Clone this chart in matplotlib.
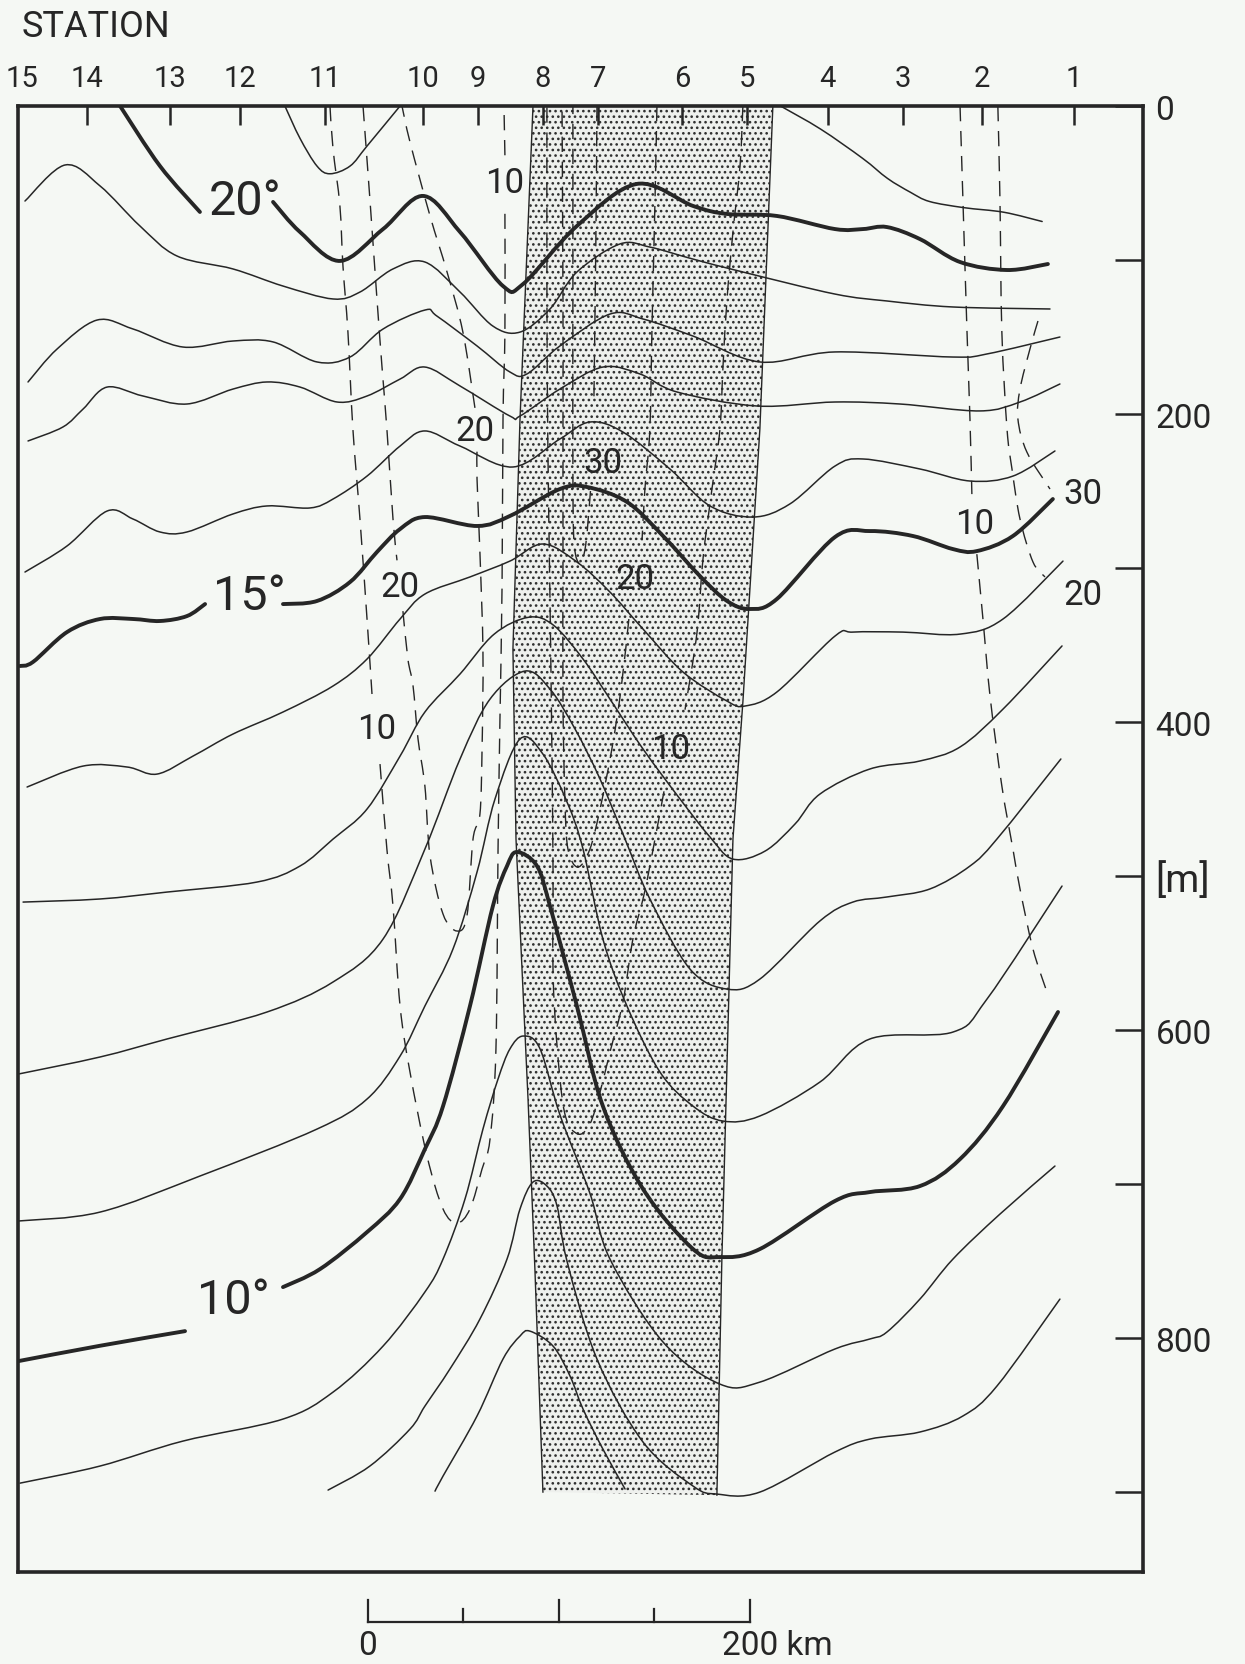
import numpy as np
import matplotlib.pyplot as plt
from matplotlib.path import Path
from matplotlib.patches import PathPatch, Polygon
from matplotlib import transforms

plt.rcParams['font.family'] = ['Roboto', 'DejaVu Sans']
plt.rcParams['hatch.linewidth'] = 1.1

ink = '#262626'
paper = '#f5f8f4'

# stations along the section, distance in km from the scale origin
stations = ['15', '14', '13', '12', '11', '10', '9', '8', '7', '6', '5', '4', '3', '2', '1']
station_km = [-181, -147.1, -103.7, -67.0, -22.5, 28.8, 57.6, 91.6, 120.4, 164.4, 198.4, 240.8, 280.1, 321.5, 369.6]

depth_ticks = [0, 100, 200, 300, 400, 500, 600, 700, 800, 900]
depth_labels = ['0', '', '200', '', '400', '[m]', '600', '', '800', '']

scale_km = [0, 50, 100, 150, 200]

# isotherms as (km, depth m); thick ones are split where the label sits
iso21_w = [(-43.5, 0), (-35.6, 21), (-26.7, 39), (-19.9, 44), (-9.4, 39), (-0.5, 26), (16.8, 0)]
iso21_e = [(216, 0), (237, 15), (259, 34), (272, 47), (284, 56), (294, 62), (312, 66), (333, 69), (353, 75)]
iso20_w = [(-129.8, 0), (-108.9, 39), (-88, 68.8)]
iso20_e = [(-49.7, 62.3), (-35.6, 81.8), (-14.7, 100.6), (7.9, 79.9), (28.8, 58.4), (48.2, 81.8),
           (70.7, 116.9), (81.2, 115.6), (109.4, 77.9), (140.8, 50.6), (170.2, 64.9), (188, 70.1),
           (214.1, 71.4), (244.5, 79.9), (259.2, 79.9), (271.7, 78.6), (289, 86.4), (310, 101.3),
           (334.6, 106.5), (356, 102.6)]
iso19 = [(-179.6, 61.7), (-158.6, 38.3), (-140.3, 51.9), (-119.4, 77.9), (-100, 97.4), (-70.7, 105.8),
         (-44.5, 116.9), (-18.3, 125.3), (-4.2, 120.8), (13.1, 105.8), (29.8, 101.3), (48.2, 120.8),
         (65.4, 142.9), (79.6, 146.8), (95.3, 131.8), (109.4, 107.8), (131.9, 89.6), (147.6, 91.6),
         (170.2, 99.4), (196.3, 107.8), (244.5, 122.1), (271.7, 126.6), (306.3, 130.5), (357.1, 131.8)]
iso18 = [(-178, 179.2), (-162.8, 157.8), (-141.9, 139), (-123, 144.8), (-96.9, 156.5), (-70.7, 152.6),
         (-49.7, 153.2), (-26.7, 166.2), (-9.4, 163), (7.9, 144.8), (29.8, 132.5), (36.1, 136.4),
         (57.1, 155.8), (74.3, 172.7), (83.2, 174), (100.5, 155.8), (126.7, 135.1), (144, 138.3),
         (170.2, 149.4), (205.2, 166.2), (244.5, 159.7), (306.3, 163), (324.1, 161), (362.3, 150)]
iso17 = [(-178, 217.5), (-159.7, 208.4), (-149.2, 196.8), (-136.6, 182.5), (-117.8, 188.3), (-94.8, 193.5),
         (-70.7, 183.8), (-52.9, 179.2), (-35.6, 182.5), (-16.2, 192.2), (-0.5, 188.3), (16.8, 177.3),
         (29.8, 169.5), (48.2, 181.8), (74.3, 201.3), (79.6, 201.3), (100.5, 183.8), (123, 169.5),
         (142.4, 174), (161.8, 185.7), (203.7, 194.8), (244.5, 192.2), (278.5, 193.5), (320.4, 198),
         (341.4, 192.2), (362.3, 180.5)]
iso16 = [(-179.6, 302.6), (-157.6, 285.7), (-136.6, 263), (-123, 268.2), (-108.9, 276.6), (-94.8, 276.6),
         (-70.7, 264.9), (-52.9, 259.7), (-30.4, 261), (-18.3, 255.2), (-0.5, 240.3), (16.8, 220.8),
         (29.8, 211), (48.2, 220.8), (75.9, 234.4), (100.5, 216.2), (116.2, 205.2), (133.5, 211.7),
         (158.1, 235.7), (179.1, 259.7), (201.6, 266.9), (220.9, 258.4), (244.5, 233.8), (259.2, 229.2),
         (289, 235.7), (315.2, 243.5), (337.7, 240.3), (359.7, 224)]
iso15_w = [(-182.2, 363.6), (-175.4, 361), (-157.6, 341.6), (-140.3, 333.1), (-123, 333.1), (-108.9, 334.4),
           (-94.8, 331.2), (-85.3, 323.4)]
iso15_e = [(-44.5, 323.4), (-26.7, 321.4), (-9.4, 309.1), (4.7, 289.6), (16.8, 274.7), (29.8, 266.9),
           (57.1, 272.7), (74.3, 266.2), (100.5, 248.7), (114.7, 247.4), (135.6, 257.1), (154.5, 279.2),
           (173.8, 305.2), (188, 321.4), (200, 326.6), (214.1, 320.1), (244.5, 279.9), (262.8, 276),
           (285.3, 279.2), (306.3, 287.7), (318.8, 289), (337.7, 279.2), (358.6, 255.2)]
iso14 = [(-178.5, 442.2), (-149.2, 428.6), (-126.2, 429.2), (-110.5, 433.8), (-91.6, 422.1), (-70.7, 407.8),
         (-44.5, 393.5), (-18.3, 376.6), (-0.5, 359.1), (16.8, 333.1), (29.8, 316.9), (53.4, 305.8),
         (74.3, 295.5), (91.6, 284.4), (109.4, 296.1), (126.7, 315.6), (144, 339.6), (164.9, 367.5),
         (188, 386.4), (197.4, 389.6), (214.1, 380.5), (244.5, 344.2), (253.9, 341.6), (280.1, 341.6),
         (310, 342.9), (332.5, 333.1), (363.9, 295.5)]
iso13 = [(-180.6, 516.9), (-140.3, 514.9), (-105.2, 510.4), (-58.1, 503.9), (-35.6, 493.5), (-18.3, 476),
         (-0.5, 456.5), (16.8, 422.1), (29.8, 393.5), (48.2, 368.8), (66, 343), (84, 332), (97, 337),
         (112.6, 359.1), (126.7, 385.1), (144, 417.5), (163.4, 450), (179.1, 474.7), (191.1, 489),
         (207.9, 483.8), (223.6, 466.2), (236.6, 446.8), (262.8, 430.5), (289, 425.3), (310, 416.2),
         (332.5, 391.6), (363.4, 350.6)]
iso12 = [(-183.2, 628.6), (-140.3, 617.5), (-105.2, 605.8), (-52.9, 588.3), (-18.3, 568.8), (7.9, 540.9),
         (29.8, 482.5), (48.2, 424), (63.9, 385.1), (82.2, 366.9), (95.3, 378.6), (108.4, 404.5),
         (121.5, 437), (134.6, 476), (147.6, 514.9), (168.6, 560.4), (188, 573.4), (205.2, 566.9),
         (236.6, 529.2), (253.9, 516.9), (271.7, 513.6), (294.2, 508.4), (315.2, 493.5), (329.3, 476),
         (362.8, 424)]
iso11 = [(-183.2, 724), (-140.3, 718.2), (-88, 694.8), (-26.7, 664.3), (-0.5, 644.8), (16.8, 616.9),
         (29.8, 584.4), (44.5, 547.4), (57.1, 497.4), (66.5, 450), (79.6, 411), (91.6, 420.8),
         (104.2, 451.9), (112.6, 482.5), (123, 540.9), (135.6, 584.4), (152.9, 627.3), (170.2, 649.4),
         (185.9, 659.1), (205.2, 655.8), (236.6, 633.8), (262.8, 605.8), (306.3, 601.3), (324.1, 579.9),
         (363.4, 506.5)]
iso10_w = [(-183.2, 815), (-140.3, 805), (-95.8, 795.5)]
iso10_e = [(-44.5, 766.9), (-25.1, 755.2), (-0.5, 731.2), (16.8, 709.7), (29.8, 677.3), (39.3, 649.4),
           (53.4, 584.4), (65.4, 519.5), (72.8, 493.5), (78, 484.4), (88.5, 493.5), (95.3, 519.5),
           (109.4, 584.4), (123, 649.4), (144, 703.2), (170.2, 742.2), (184.3, 747.4), (205.2, 742.2),
           (244.5, 711), (262.8, 705.2), (289, 701.3), (310, 683.8), (332.5, 649.4), (361.3, 588.3)]
iso9 = [(-182.2, 894.2), (-140.3, 883.1), (-96.9, 866.9), (-44.5, 852.6), (-18.3, 835.1), (7.9, 805.2),
        (29.8, 770.1), (39.3, 748.7), (50.8, 709.7), (60.2, 664.3), (68.1, 631.8), (74.3, 612.3),
        (81.2, 603.9), (90, 612), (100.5, 655), (116.2, 706), (126.7, 748.7), (154.5, 802.6),
        (184.3, 829.9), (205.2, 828.6), (244.5, 807.1), (262.8, 800.6), (271.7, 796.1), (289, 774.7),
        (306.3, 748.7), (330.9, 719.5), (359.7, 688.3)]
iso8 = [(-20.9, 898.7), (1, 883.1), (22, 859.1), (29.8, 844.2), (42.9, 820.1), (58.6, 787.7),
        (72.8, 748.7), (79.6, 716.2), (86.4, 698.7), (93.7, 701.3), (99, 714.3), (104.2, 750),
        (119.9, 813.6), (144, 867.5), (170.2, 896.1), (182.7, 901.3), (205.2, 900), (244.5, 874),
        (262.8, 865.6), (289, 861), (311.5, 850.6), (329.3, 831.2), (362.3, 774.7)]
iso7 = [(35.1, 899.4), (39.3, 889.6), (57.1, 850.6), (70.7, 813.6), (79.6, 798.7), (84.8, 795.5),
        (96.9, 805.2), (105.8, 824.7), (112.6, 846.1), (123, 872.1), (134.6, 898)]

thin_isotherms = [iso21_w, iso21_e, iso19, iso18, iso17, iso16, iso14, iso13, iso12, iso11, iso9, iso8, iso7]
thick_isotherms = [iso20_w, iso20_e, iso15_w, iso15_e, iso10_w, iso10_e]
isotherm_labels = [('20°', -64.4, 62), ('15°', -62.3, 318), ('10°', -70.7, 775)]

# dashed isolines, cut where the value is written
west10 = [[(-19.9, 0), (-18.3, 27.9), (-14.7, 64.9), (-13.1, 103.9), (-10.5, 146.8), (-7.9, 209.7),
           (-4.2, 268.2), (-0.5, 333.1), (2.1, 381.8)],
          [(6.3, 427.3), (9.9, 482.5), (13.1, 519.5), (16.8, 584.4), (22, 627.3), (30.9, 681.8),
           (39.3, 716.2), (46.6, 725.3), (53.4, 716.2), (59.7, 690.3), (63.9, 670.8), (67, 612.3),
           (68.1, 482.5), (69.1, 398), (70.2, 311.7), (70.7, 203.2), (71.7, 146.8), (71.7, 70)],
          [(71.7, 32), (71.2, 0)]]
west20 = [[(-2.6, 0), (1, 60.4), (4.7, 125.3), (7.3, 168.8), (9.9, 209.7), (13.1, 268.2), (15.2, 295)],
          [(18.3, 328), (20.9, 359.1), (23.6, 376.6), (26.2, 411), (29.8, 441.6), (32.5, 487),
           (39.3, 524.7), (46.6, 535.7), (51.8, 526), (55, 476), (58.6, 460), (59.7, 419.5),
           (60.2, 354.5), (58.6, 289.6), (57.1, 242.2), (57.1, 224)],
          [(56, 196), (49.7, 146.8), (41.4, 107.8), (32.5, 71.4), (22, 23.4), (17.8, 0)]]
core10 = [[(196.3, 0), (194.8, 39), (191.1, 81.8), (188, 125.3), (185.9, 168.8), (184.3, 209.7),
           (180.1, 248.7), (175.4, 294.2), (172.3, 341.6), (166, 392)],
          [(155, 445), (147.6, 493.5), (144, 514.9), (138.7, 540.9), (133.5, 581.8), (126.7, 614.3),
           (121.5, 640.3), (116.2, 661), (109.9, 667.5), (103.1, 654.5), (99, 610.4), (96.9, 562.3),
           (96.9, 497.4), (96.3, 417.5), (95.3, 320.1), (94.2, 222.7), (93.7, 125.3), (93.7, 0)]]
core20 = [[(151.3, 0), (150.3, 60.4), (148.7, 144.8), (147.6, 209.7), (145, 248.7), (143.5, 282)],
          [(136.6, 333.1), (132.5, 378.6), (127.7, 417.5), (121.5, 456.5), (116.2, 482.5), (109.9, 494.2),
           (104.7, 482.5), (103.1, 450), (102.1, 385.1), (102.1, 294.2), (102.1, 209.7), (102.1, 125.3),
           (101.6, 0)]]
core30 = [[(119.9, 0), (119.3, 90), (118.3, 190)],
          [(116.5, 250), (114, 285), (111, 297), (108, 285), (107.3, 240), (107.3, 120), (107.3, 0)]]
east10 = [[(310, 0), (311.5, 60.4), (313.6, 144.8), (315.2, 203.2), (316.2, 252)],
          [(318.8, 291), (322, 333.1), (325.7, 383.1), (331.9, 441.6), (337.7, 482.5), (341.4, 508.4),
           (348.2, 547.4), (355.5, 575.3)]]
east20 = [[(329.8, 0), (330.9, 60.4), (331.9, 146.8), (334.6, 209.7), (337.2, 235.7), (341.4, 268.2),
           (348.2, 296.1), (354.5, 305.8)]]
east30 = [[(350.8, 139.6), (346.6, 157.8), (341.4, 183.8), (340.3, 203.2), (345, 224.7), (357.1, 248.7)]]
dashed_lines = west10 + west20 + core10 + core20 + core30 + east10 + east20 + east30
dashed_labels = [('10', 71.7, 49.4), ('20', 56, 210.4), ('20', 16.8, 311.7), ('10', 4.7, 404.5),
                 ('30', 123, 231.8), ('20', 139.8, 307.1), ('10', 158.6, 417.5),
                 ('10', 317.8, 270.8), ('30', 374.3, 251.9), ('20', 374.3, 316.9)]

# stippled band, western and eastern edge
band_w = [(86.4, 0), (79.6, 203.2), (75.9, 352.6), (77.5, 476), (83.8, 644.8), (87.4, 755.2), (91.6, 900)]
band_e = [(212, 0), (205.2, 209.7), (196.3, 387), (191.1, 476), (185.3, 748.7), (182.7, 902)]


def smooth(points):
    # Catmull-Rom through the points, as cubic Bezier segments
    p = np.asarray(points, float)
    verts = [p[0]]
    codes = [Path.MOVETO]
    for i in range(len(p) - 1):
        a = p[max(i - 1, 0)]
        b, c = p[i], p[i + 1]
        d = p[min(i + 2, len(p) - 1)]
        verts += [b + (c - a) / 6, c - (d - b) / 6, c]
        codes += [Path.CURVE4] * 3
    return Path(verts, codes)


def draw(points, **kw):
    ax.add_patch(PathPatch(smooth(points), fill=False, edgecolor=ink, **kw))


fig = plt.figure(figsize=(12.45, 16.65), dpi=100, facecolor=paper)
ax = fig.add_axes([0.014458, 0.055255, 0.903614, 0.880480])
ax.set_facecolor(paper)
ax.set_xlim(-183.25, 405.8)
ax.set_ylim(951.9, 0)

for side in ax.spines.values():
    side.set_linewidth(2.6)
    side.set_color(ink)

# stippled band
band = Polygon(band_w + band_e[::-1], closed=True, facecolor='#eef0ed', edgecolor='#2e2e2e',
               linewidth=0, hatch='...', zorder=1)
ax.add_patch(band)
for edge in (band_w, band_e):
    ax.plot([p[0] for p in edge], [p[1] for p in edge], color=ink, lw=1.0, zorder=1.5)

for line in thin_isotherms:
    draw(line, linewidth=1.1, zorder=3, capstyle='round')
for line in thick_isotherms:
    draw(line, linewidth=2.8, zorder=3, capstyle='round')
for line in dashed_lines:
    draw(line, linewidth=1.0, linestyle=(0, (11, 7)), zorder=2)

for text, x, y in isotherm_labels:
    ax.text(x, y, text, fontsize=35, ha='center', va='center', color=ink, zorder=4)
for text, x, y in dashed_labels:
    ax.text(x, y, text, fontsize=25, ha='center', va='center', color=ink, zorder=4)

# station ticks along the top
ax.xaxis.tick_top()
ax.set_xticks(station_km, stations)
ax.tick_params(axis='x', direction='in', length=14, width=1.8, pad=10, labelsize=21, colors=ink)
ax.xaxis.get_major_ticks()[0].tick2line.set_visible(False)

# depth ticks on the right
ax.yaxis.tick_right()
ax.set_yticks(depth_ticks, depth_labels)
ax.tick_params(axis='y', direction='in', length=20, width=1.8, pad=9, labelsize=24, colors=ink)
ax.yaxis.get_major_ticks()[5].label2.set_fontsize(28)

fig.text(0.0177, 1 - 37 / 1665, 'STATION', fontsize=26, va='baseline', ha='left', color=ink)

# distance scale below the frame
trans = transforms.blended_transform_factory(ax.transData, ax.transAxes)
ax.plot([scale_km[0], scale_km[-1]], [-0.0341, -0.0341], transform=trans, clip_on=False, color=ink, lw=1.6)
for km in scale_km:
    top = -0.0191 if km % 100 == 0 else -0.0252
    ax.plot([km, km], [-0.0341, top], transform=trans, clip_on=False, color=ink, lw=1.6)
ax.text(scale_km[0], -0.0498, '0', transform=trans, fontsize=24, ha='center', va='center', color=ink)
ax.text(185.3, -0.0498, f'{scale_km[-1]} km', transform=trans, fontsize=24, ha='left', va='center', color=ink)

fig.savefig('out.png', dpi=100, facecolor=paper)
